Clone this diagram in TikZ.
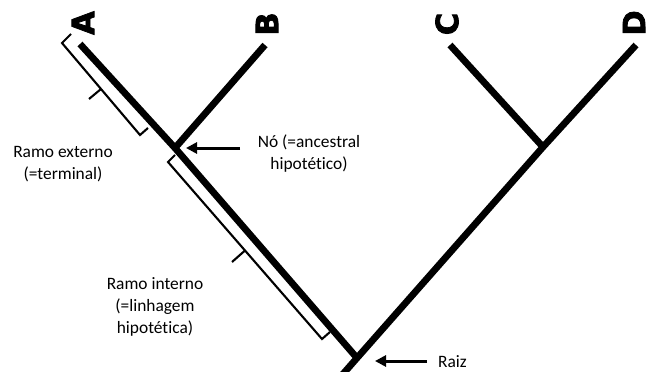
\documentclass[tikz,border=0pt]{standalone}
\usepackage{fontspec}
\setmainfont{Carlito}[Ligatures=NoCommon]
\newfontfamily\tipfont{DejaVu Sans}[FakeBold=2.5]
\usetikzlibrary{arrows.meta}
\begin{document}
\begin{tikzpicture}[x=1pt,y=-1pt,
  branch/.style={line width=6.8pt,line cap=butt,line join=miter},
  bracket/.style={line width=2.1pt,line join=miter,line cap=butt},
  pointer/.style={line width=3pt,-{Triangle[length=11pt,width=11pt]}},
  lbl/.style={align=center,inner sep=0pt,font=\fontsize{17.4}{22}\selectfont},
  tip/.style={inner sep=0pt,rotate=90,font=\tipfont\bfseries\fontsize{30.5}{30.5}\selectfont}]
\useasboundingbox (0,0) rectangle (651,372);
\clip (0,0) rectangle (651,372);

% taxon tips, internal nodes and root
\coordinate (A) at (80,44);
\coordinate (B) at (265,45);
\coordinate (C) at (450,45);
\coordinate (D) at (636,45);
\coordinate (nAB) at (175,148);
\coordinate (nCD) at (543,147);
\coordinate (root) at (357,358);
\coordinate (stub) at (336,382);

% taxon names
\node[tip] (tA) at (83,23) {A};
\node[tip] (tB) at (267,24) {B};
\node[tip] (tC) at (447,24) {C};
\node[tip] (tD) at (634,23) {D};

% branches
\draw[branch] (A) -- (nAB) -- (root);
\draw[branch] (B) -- (nAB);
\draw[branch] (C) -- (nCD);
\draw[branch] (D) -- (nCD) -- (root) -- (stub);

% bracket along the terminal branch
\coordinate (e1) at (71,34);
\coordinate (e2) at (62,43);
\coordinate (e3) at (140,135);
\coordinate (e4) at (148,128);
\coordinate (em) at (101,89);
\coordinate (eo) at (89,99);
\draw[bracket] (e1) -- (e2) -- (e3) -- (e4);
\draw[bracket] (em) -- (eo);

% bracket along the internal branch
\coordinate (i1) at (175,155);
\coordinate (i2) at (168,162);
\coordinate (i3) at (322,339);
\coordinate (i4) at (330,332);
\coordinate (im) at (245,250.5);
\coordinate (io) at (232,262);
\draw[bracket] (i1) -- (i2) -- (i3) -- (i4);
\draw[bracket] (im) -- (io);

% labels
\node[lbl] (ext) at (63,164) {Ramo externo\\(=terminal)};
\node[lbl] (int) at (155,307) {Ramo interno\\(=linhagem\\hipotética)};
\node[lbl] (no) at (309,154) {Nó (=ancestral\\hipotético)};
\node[lbl,anchor=west] (raiz) at (438,362) {Raiz};

% pointers
\coordinate (pN) at (240,148);
\coordinate (pNend) at (186,148);
\coordinate (pR) at (427,361);
\coordinate (pRend) at (375,361);
\draw[pointer] (pN) -- (pNend);
\draw[pointer] (pR) -- (pRend);
\end{tikzpicture}
\end{document}
